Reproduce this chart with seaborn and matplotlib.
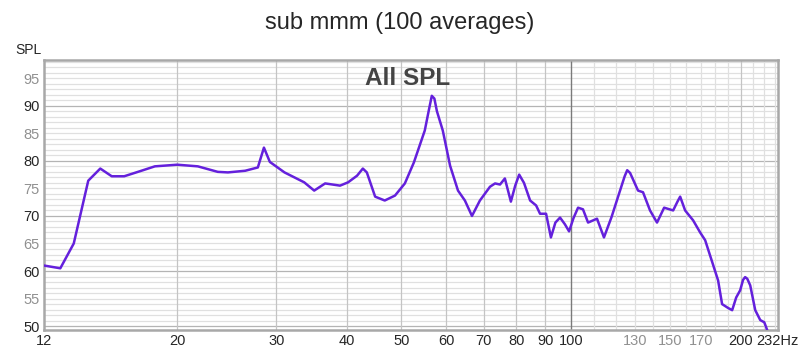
import numpy as np
import pandas as pd
import matplotlib
matplotlib.use("Agg")
import matplotlib.pyplot as plt
import seaborn as sns

# frequency response
freq = [11.6, 12.4, 13.1, 13.9, 14.6, 15.3, 16.1, 17.15, 18.25, 20.0, 21.75, 23.6, 24.6,
        26.4, 27.8, 28.5, 29.2, 31.0, 33.6, 35.0, 36.6, 38.9, 40.2, 41.7, 42.7, 43.4,
        44.9, 46.7, 48.7, 50.7, 52.6, 55.0, 56.0, 56.6, 57.2, 57.8, 59.2, 61.0, 63.0, 64.8, 66.7,
        68.9, 71.8, 73.3, 74.8, 76.3, 78.2, 79.6, 80.9, 82.5, 84.6, 86.7, 88.1, 90.3, 92.1, 93.8, 95.6,
        97.5, 99.2, 101.0, 102.9, 105.0, 107.2, 111.2, 114.4, 118.0, 121.2, 124.5, 125.8, 127.3, 131.5, 134.2, 138.1, 142.1,
        146.3, 151.8, 154.5, 156.2, 159.4, 164.7, 169.5, 173.0, 178.1, 182.4, 185.4, 190.0,
        193.2, 196.4, 199.6, 202.0, 203.7, 205.5, 208.0, 212.3, 216.7, 220.3, 222.9]
spl = [61.0, 60.5, 65.0, 76.4, 78.6, 77.2, 77.2, 78.1, 79.0, 79.3, 79.0, 78.0, 77.9,
       78.2, 78.8, 82.4, 79.8, 77.9, 76.1, 74.6, 75.9, 75.5, 76.1, 77.3, 78.6, 77.9,
       73.5, 72.8, 73.7, 75.9, 79.7, 85.5, 89.5, 91.8, 91.3, 89.0, 85.5, 79.1, 74.6, 72.8, 70.0,
       72.8, 75.3, 75.9, 75.7, 76.8, 72.6, 75.5, 77.5, 76.0, 72.8, 71.9, 70.4, 70.4, 66.1, 68.8, 69.7,
       68.5, 67.2, 69.6, 71.5, 71.2, 68.8, 69.5, 66.1, 69.8, 73.5, 77.2, 78.3, 77.8, 74.6, 74.3, 71.0, 68.8,
       71.5, 71.0, 72.6, 73.5, 71.0, 69.2, 67.0, 65.6, 61.6, 58.3, 54.0, 53.3,
       52.9, 55.2, 56.5, 58.4, 58.9, 58.6, 57.4, 52.9, 51.1, 50.7, 49.3]

xticks = [11.6, 20, 30, 40, 50, 60, 70, 80, 90, 100, 130, 150, 170, 200, 232]
xlabels = ["12", "20", "30", "40", "50", "60", "70", "80", "90", "100", "130", "150", "170", "200", "232Hz"]
xgray = ["130", "150", "170"]
yticks = [50, 55, 60, 65, 70, 75, 80, 85, 90, 95]

df = pd.DataFrame({"freq": freq, "spl": spl})

sns.set_style("white")
plt.rcParams["font.family"] = ["Liberation Sans", "DejaVu Sans"]

fig = plt.figure(figsize=(8, 3.55), dpi=100)
ax = fig.add_axes([0.055, 0.0704, 0.9175, 0.7606])

# grid
for v in range(50, 99):
    c = "#b4b4b4" if v % 10 == 0 else "#e0e0e0"
    ax.axhline(v, color=c, lw=0.9, zorder=0)
for f in range(20, 100, 10):
    ax.axvline(f, color="#c4c4c4", lw=0.9, zorder=0)
for f in range(110, 240, 10):
    ax.axvline(f, color="#c4c4c4" if f == 200 else "#e0e0e0", lw=0.9, zorder=0)
ax.axvline(100, color="#7a7a7a", lw=1.0, zorder=0)

sns.lineplot(data=df, x="freq", y="spl", ax=ax, color="#6420dc", lw=1.8, zorder=3)

ax.set_xscale("log")
ax.set_xlim(11.6, 233)
ax.set_ylim(49.3, 98.3)
ax.set_xticks(xticks)
ax.set_xticklabels(xlabels)
ax.minorticks_off()
ax.set_yticks(yticks)
ax.tick_params(length=0, labelsize=10.5, pad=3)
for t in ax.get_xticklabels():
    if t.get_text() in xgray:
        t.set_color("#909090")
for t, v in zip(ax.get_yticklabels(), yticks):
    if v % 10 != 0:
        t.set_color("#909090")
ax.set_xlabel("")
ax.set_ylabel("")

for s in ax.spines.values():
    s.set_color("#a8a8a8")
    s.set_linewidth(1.8)

fig.text(0.5, 0.936, "sub mmm (100 averages)", ha="center", va="center", fontsize=17)
fig.text(0.019, 0.858, "SPL", ha="left", va="center", fontsize=10)
ax.text(0.495, 0.93, "All SPL", transform=ax.transAxes, ha="center", va="center",
        fontsize=17.5, fontweight="bold", color="#444444")

fig.savefig("out.png", dpi=100)
